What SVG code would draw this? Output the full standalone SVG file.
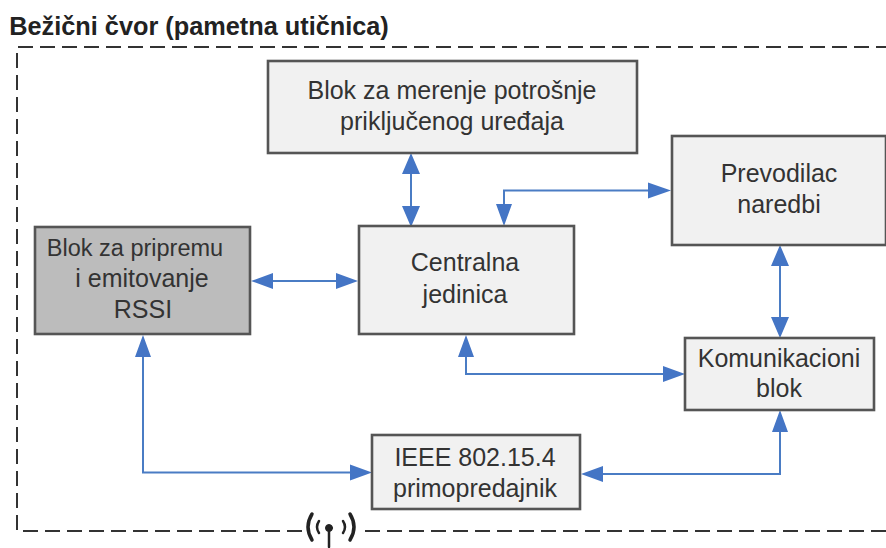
<svg xmlns="http://www.w3.org/2000/svg" width="886" height="548" viewBox="0 0 886 548">
<style>
text{font-family:"Liberation Sans",Arial,sans-serif;font-size:25px;fill:#333;text-anchor:middle}
.b{fill:#f1f1f1;stroke:#555;stroke-width:2.6}
.c{fill:none;stroke:#4a7cc4;stroke-width:2}
.a{fill:#4475c5}
.d{fill:none;stroke:#333;stroke-width:2;stroke-dasharray:15 7}
</style>
<rect width="886" height="548" fill="#fff"/>
<text x="199" y="35" style="font-weight:bold;font-size:25.300px;fill:#222">Bežični čvor (pametna utičnica)</text>
<path class="d" d="M302 531H17V47H886"/>
<path class="d" d="M365 531H886"/>
<g id="connectors">
<path class="c" d="M411 165V216"/><path class="a" d="M411 153l-9 21h18zM411 227l-9-21h18z"/>
<path class="c" d="M504 216V190.500H660"/><path class="a" d="M504 226l-8-22h16zM671 190.500l-23-8v16z"/>
<path class="c" d="M262 281H347"/><path class="a" d="M251 281l22-8v16zM358 281l-22-8v16z"/>
<path class="c" d="M780 256V327"/><path class="a" d="M780 245l-9 21h18zM780 338l-9-21h18z"/>
<path class="c" d="M466 346V374H674"/><path class="a" d="M466 335l-8 22h16zM685 374l-22-8v16z"/>
<path class="c" d="M143 346V472.500H361"/><path class="a" d="M143 335l-8 22h16zM372 472.500l-22-8v16z"/>
<path class="c" d="M592 474H780V421"/><path class="a" d="M581 474l22-8v16zM780 410l-8 22h16z"/>
</g>
<g id="n1"><rect class="b" x="268" y="61" width="369" height="92"/><text x="452" y="99">Blok za merenje potrošnje</text><text x="452" y="130">priključenog uređaja</text></g>
<g id="n2"><rect class="b" x="672" y="136" width="214" height="109"/><text x="779" y="182">Prevodilac</text><text x="779" y="213">naredbi</text></g>
<g id="n3"><rect x="35" y="227" width="215" height="107" fill="#bcbcbc" stroke="#555" stroke-width="2.600"/><text x="135" y="256" style="font-size:23.500px">Blok za pripremu</text><text x="142" y="287">i emitovanje</text><text x="143" y="318">RSSI</text></g>
<g id="n4"><rect class="b" x="359" y="226" width="215" height="108"/><text x="465" y="271">Centralna</text><text x="465" y="303">jedinica</text></g>
<g id="n5"><rect class="b" x="685" y="338" width="189" height="72"/><text x="779" y="367">Komunikacioni</text><text x="779" y="397">blok</text></g>
<g id="n6"><rect class="b" x="372" y="435" width="208" height="74"/><text x="475" y="466">IEEE 802.15.4</text><text x="475" y="497">primopredajnik</text></g>
<g id="antenna" fill="none" stroke="#222" stroke-linecap="round">
<path stroke-width="3.500" d="M312 514q-8 13 0 26M350 514q8 13 0 26"/>
<path stroke-width="2.500" d="M319 521q-4 6 0 12M343 521q4 6 0 12"/>
<path stroke-width="2.500" d="M329 528V547"/><circle cx="329" cy="528" r="3.500" fill="#222"/>
</g>
</svg>
